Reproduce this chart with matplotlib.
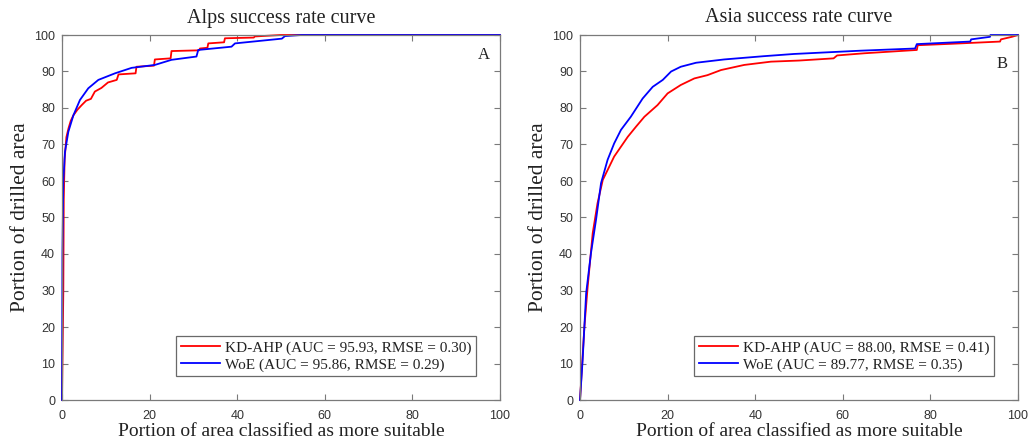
import matplotlib
matplotlib.use("Agg")
import matplotlib.pyplot as plt

# ---- data ----
alps_kd_x = [0, 0.3, 0.4, 0.6, 1.0, 1.5, 2.0, 2.6, 3.5, 4.5, 5.5, 6.6, 7.5, 9, 10.5, 12.5, 12.9,
             16.8, 17.0, 21.0, 21.2, 24.8, 25.0, 31.3, 31.5, 33.2, 33.4, 37.0, 37.2, 43.8, 44.0, 50, 100]
alps_kd_y = [0, 30, 55, 66, 72, 74.5, 76.5, 78, 79.5, 80.8, 82, 82.5, 84.5, 85.5, 87, 87.7, 89.2,
             89.5, 91.3, 91.6, 93.3, 93.6, 95.6, 95.8, 96.3, 96.5, 97.7, 98, 99.1, 99.3, 99.6, 100, 100]
alps_woe_x = [0, 0.1, 0.3, 0.68, 1.45, 2.6, 4.1, 6.0, 8.3, 12.1, 15.9, 21.2, 25, 30.7, 31.1,
              38.7, 39.5, 50.2, 50.9, 54.7, 100]
alps_woe_y = [0, 40, 60, 68, 73.5, 78, 82.2, 85.4, 87.7, 89.5, 91, 91.8, 93.2, 94.1, 95.9,
              96.8, 97.7, 99, 99.7, 100, 100]

asia_kd_x = [0, 1, 1.75, 2.9, 4, 5.2, 6.3, 7.8, 9.35, 10.9, 12.8, 14.7, 17.7, 20, 23, 26.1, 29.1,
             32.2, 37.5, 43.6, 50, 57.9, 58.7, 65, 76.9, 77.1, 85, 95.9, 96.1, 98.6, 100]
asia_kd_y = [0, 20, 31, 45.7, 53.9, 60.3, 63, 66.7, 69.4, 72.1, 74.9, 77.6, 80.8, 84, 86.3, 88.1, 89,
             90.4, 91.8, 92.7, 93.0, 93.6, 94.4, 95, 95.9, 97.2, 97.6, 98.2, 98.8, 99.5, 100]
asia_woe_x = [0, 0.6, 1.4, 2.5, 3.65, 4.8, 6.3, 7.8, 9.35, 11.6, 14.3, 16.6, 18.9, 20.8, 23, 26.5,
              32.9, 42, 48.8, 64, 76.5, 76.9, 89.1, 89.3, 93.6, 93.7, 100]
asia_woe_y = [0, 11, 29.2, 40.2, 49.3, 59.4, 65.8, 70.3, 74, 77.6, 82.6, 85.8, 87.7, 90, 91.3, 92.4,
              93.3, 94.2, 94.8, 95.7, 96.3, 97.5, 98.2, 98.8, 99.5, 100, 100]

titles = ["Alps success rate curve", "Asia success rate curve"]
panel_letters = ["A", "B"]
kd_labels = ["KD-AHP (AUC = 95.93, RMSE = 0.30)", "KD-AHP (AUC = 88.00, RMSE = 0.41)"]
woe_labels = ["WoE (AUC = 95.86, RMSE = 0.29)", "WoE (AUC = 89.77, RMSE = 0.35)"]
x_label = "Portion of area classified as more suitable"
y_label = "Portion of drilled area"
x_ticks = [0, 20, 40, 60, 80, 100]
y_ticks = [0, 10, 20, 30, 40, 50, 60, 70, 80, 90, 100]

serif = "Liberation Serif"
sans = "Liberation Sans"
axcol = "#7a7a7a"

fig = plt.figure(figsize=(10.32, 4.4), dpi=100)
positions = [[62/1032, 40/440, 438/1032, 365/440], [580/1032, 40/440, 438/1032, 365/440]]
letter_pos = [(96.3, 94.5), (96.3, 92.0)]

data = [(alps_kd_x, alps_kd_y, alps_woe_x, alps_woe_y),
        (asia_kd_x, asia_kd_y, asia_woe_x, asia_woe_y)]

for i in range(2):
    ax = fig.add_axes(positions[i])
    kx, ky, wx, wy = data[i]
    ax.plot(kx, ky, color="#ff0000", lw=1.3, label=kd_labels[i], clip_on=False)
    ax.plot(wx, wy, color="#0000ff", lw=1.3, label=woe_labels[i], clip_on=False)
    ax.set_xlim(0, 100)
    ax.set_ylim(0, 100)
    ax.set_xticks(x_ticks)
    ax.set_yticks(y_ticks)
    ax.tick_params(direction="in", top=True, right=True, length=4, width=0.8,
                   colors=axcol, labelcolor="#333333", labelsize=9)
    ax.tick_params(axis="x", pad=7)
    ax.tick_params(axis="y", pad=5)
    for lab in ax.get_xticklabels() + ax.get_yticklabels():
        lab.set_fontfamily(sans)
    for sp in ax.spines.values():
        sp.set_color(axcol)
        sp.set_linewidth(0.9)
    ax.set_title(titles[i], fontfamily=serif, fontsize=14.5, color="#222222", pad=9)
    ax.set_xlabel(x_label, fontfamily=serif, fontsize=14, color="#222222", labelpad=1)
    ax.set_ylabel(y_label, fontfamily=serif, fontsize=15.5, color="#222222", labelpad=3)
    ax.text(letter_pos[i][0], letter_pos[i][1], panel_letters[i], fontfamily=serif,
            fontsize=12, color="#222222", ha="center", va="center")
    leg = ax.legend(loc="lower right", bbox_to_anchor=(0.945, 0.065),
                    prop={"family": serif, "size": 11}, frameon=True, fancybox=False,
                    handlelength=2.6, handletextpad=0.3, borderpad=0.3, labelspacing=0.2,
                    borderaxespad=0)
    leg.get_frame().set_edgecolor("#444444")
    leg.get_frame().set_linewidth(0.9)
    for t in leg.get_texts():
        t.set_color("#222222")

fig.savefig("out.png", dpi=100)
